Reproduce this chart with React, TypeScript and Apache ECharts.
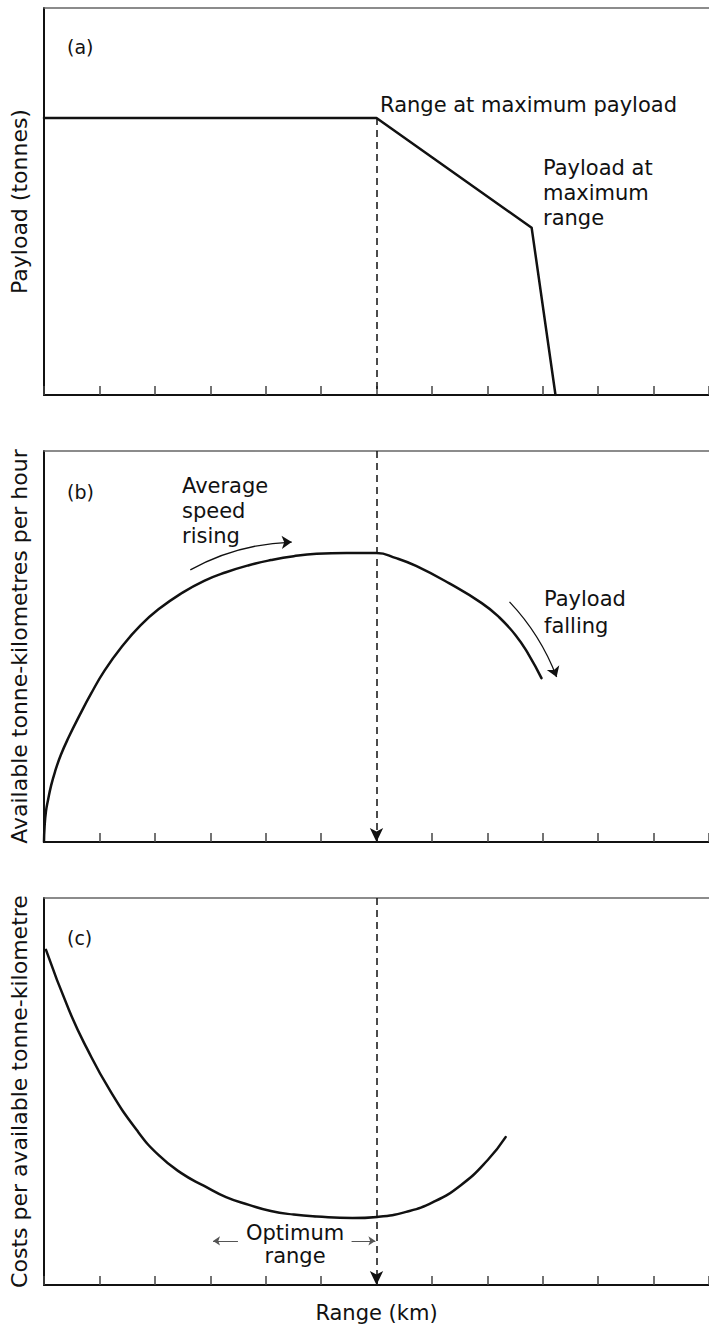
import React, { useEffect, useRef } from "react";
import * as echarts from "echarts";

// Panel (a): payload vs range
const payloadX = [0, 6, 8.8, 9.23];
const payloadY = [71.6, 71.6, 43.2, 0];

// Panel (b): available tonne-km per hour vs range
const tkmX = [0, 0.01, 0.036, 0.072, 0.126, 0.197, 0.305, 0.449, 0.646, 0.844, 1.095, 1.418, 1.741, 2.065, 2.478, 2.89, 3.285, 3.698, 4.093, 4.506, 4.919, 5.458, 6.0, 6.355, 6.714, 7.307, 7.899, 8.205, 8.51, 8.743, 8.977];
const tkmY = [0, 3.8, 7.9, 10.7, 14.3, 17.9, 22.3, 26.9, 32.5, 37.8, 43.9, 50.2, 55.4, 59.5, 63.6, 66.8, 69.0, 70.8, 72.1, 73.1, 73.7, 73.9, 73.9, 72.6, 70.6, 66.2, 61.1, 57.6, 52.9, 48.0, 41.9];

// Panel (c): cost per available tonne-km vs range
const costX = [0.036, 0.449, 0.772, 1.185, 1.67, 2.065, 2.478, 2.89, 3.285, 3.698, 4.093, 4.506, 4.919, 5.566, 6.014, 6.535, 7.02, 7.522, 8.007, 8.33];
const costY = [86.6, 71.1, 61.2, 50.4, 40.1, 33.6, 28.9, 25.6, 22.7, 20.7, 19.1, 18.2, 17.7, 17.3, 17.6, 18.9, 21.4, 25.8, 32.3, 38.2];

const optimumRange = 6;
const xTickCount = 12;

const yNames = [
  "Payload (tonnes)",
  "Available tonne-kilometres per hour",
  "Costs per available tonne-kilometre",
];
const xName = "Range (km)";

const FONT = "DejaVu Sans";
const INK = "#111";

export default function App() {
  const ref = useRef<HTMLDivElement>(null);

  useEffect(() => {
    document.body.style.margin = "0";
    if (!ref.current) return;
    const chart = echarts.init(ref.current, null, { renderer: "svg" });

    const grids = [
      { left: 43, top: 8, width: 668, height: 387 },
      { left: 43, top: 451, width: 668, height: 391 },
      { left: 43, top: 898, width: 668, height: 387 },
    ];

    const bottomAxis = (i: number) => ({
      gridIndex: i,
      type: "value",
      min: 0,
      max: xTickCount,
      interval: 1,
      position: "bottom",
      axisLine: { show: true, onZero: false, lineStyle: { color: INK, width: 2 } },
      axisTick: { show: true, inside: true, length: 9, lineStyle: { color: "#444", width: 1.5 } },
      axisLabel: { show: false },
      splitLine: { show: false },
      ...(i === 2
        ? {
            name: xName,
            nameLocation: "middle",
            nameGap: 17,
            nameTextStyle: { fontFamily: FONT, fontSize: 21, color: INK },
          }
        : {}),
    });

    const topAxis = (i: number) => ({
      gridIndex: i,
      type: "value",
      min: 0,
      max: xTickCount,
      position: "top",
      axisLine: { show: true, onZero: false, lineStyle: { color: "#666", width: 1.5 } },
      axisTick: { show: false },
      axisLabel: { show: false },
      splitLine: { show: false },
    });

    const yAxis = (i: number) => ({
      gridIndex: i,
      type: "value",
      min: 0,
      max: 100,
      axisLine: { show: true, onZero: false, lineStyle: { color: INK, width: 2 } },
      axisTick: { show: false },
      axisLabel: { show: false },
      splitLine: { show: false },
      name: yNames[i],
      nameLocation: "middle",
      nameRotate: 90,
      nameGap: 14,
      nameTextStyle: { fontFamily: FONT, fontSize: 22, color: INK },
    });

    const dashedLine = (topVal: number, arrow: boolean) => ({
      silent: true,
      symbol: ["none", arrow ? "arrow" : "none"],
      symbolSize: [10, 14],
      label: { show: false },
      lineStyle: { type: [7, 5], color: INK, width: 1.5 },
      data: [[{ coord: [optimumRange, topVal] }, { coord: [optimumRange, 0] }]],
    });

    const zip = (xs: number[], ys: number[]) => xs.map((x, k) => [x, ys[k]]);

    const arrow = (i: number, from: number[], to: number[], curveness: number, color: string, width: number, size: number) => ({
      type: "lines",
      coordinateSystem: "cartesian2d",
      xAxisIndex: i,
      yAxisIndex: i,
      silent: true,
      symbol: ["none", "arrow"],
      symbolSize: size,
      lineStyle: { color, width, curveness, opacity: 1 },
      data: [{ coords: [from, to] }],
    });

    const text = (left: number, top: number, str: string, size: number, lh: number, align = "left") => ({
      type: "text",
      left,
      top,
      silent: true,
      style: {
        text: str,
        fontFamily: FONT,
        fontSize: size,
        lineHeight: lh,
        fill: INK,
        textAlign: align,
      },
    });

    const curve = (i: number, xs: number[], ys: number[], extra: any = {}) => ({
      type: "line",
      xAxisIndex: i,
      yAxisIndex: i,
      data: zip(xs, ys),
      showSymbol: false,
      lineStyle: { color: INK, width: 2.5, cap: "round", join: "round" },
      ...extra,
    });

    const option = {
      animation: false,
      backgroundColor: "#fff",
      grid: grids,
      xAxis: [bottomAxis(0), bottomAxis(1), bottomAxis(2), topAxis(0), topAxis(1), topAxis(2)],
      yAxis: [yAxis(0), yAxis(1), yAxis(2)],
      series: [
        curve(0, payloadX, payloadY, { markLine: dashedLine(payloadY[1], false) }),
        curve(1, tkmX, tkmY, { smooth: true, markLine: dashedLine(100, true) }),
        curve(2, costX, costY, { smooth: true, markLine: dashedLine(100, true) }),
        arrow(1, [2.64, 69.6], [4.47, 76.7], 0.12, INK, 1.3, 10),
        arrow(1, [8.4, 61.4], [9.25, 42.2], 0.1, INK, 1.3, 10),
        arrow(2, [3.5, 11.4], [3.05, 11.4], 0, "#555", 1, 7),
        arrow(2, [5.55, 11.4], [5.98, 11.4], 0, "#555", 1, 7),
      ],
      graphic: [
        text(67, 36, "(a)", 19, 22),
        text(380, 92, "Range at maximum payload", 21, 25),
        text(543, 155, "Payload at\nmaximum\nrange", 21, 25),
        text(67, 481, "(b)", 19, 22),
        text(182, 473, "Average\nspeed\nrising", 21, 25),
        text(544, 585, "Payload\nfalling", 21, 27),
        text(67, 927, "(c)", 19, 22),
        text(246, 1221, "Optimum\nrange", 21, 23, "center"),
      ],
    };

    chart.setOption(option as any);
    return () => chart.dispose();
  }, []);

  return <div ref={ref} style={{ width: 709, height: 1324 }} />;
}
